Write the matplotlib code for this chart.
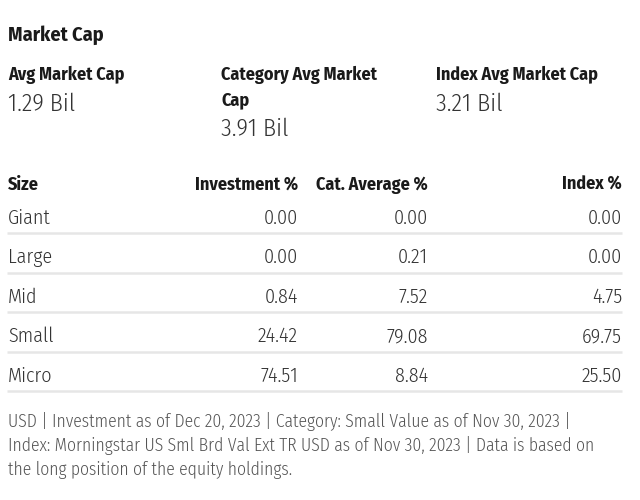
import matplotlib
matplotlib.use("Agg")
import matplotlib.pyplot as plt

plt.rcParams["font.family"] = ["Fira Sans Condensed", "DejaVu Sans"]

title = "Market Cap"
stat_labels = [["Avg Market Cap"], ["Category Avg Market", "Cap"], ["Index Avg Market Cap"]]
stat_values = ["1.29 Bil", "3.91 Bil", "3.21 Bil"]

columns = ["Size", "Investment %", "Cat. Average %", "Index %"]
sizes = ["Giant", "Large", "Mid", "Small", "Micro"]
investment = [0.00, 0.00, 0.84, 24.42, 74.51]
cat_average = [0.00, 0.21, 7.52, 79.08, 8.84]
index_pct = [0.00, 0.00, 4.75, 69.75, 25.50]

footnote = ["USD | Investment as of Dec 20, 2023 | Category: Small Value as of Nov 30, 2023 |",
            "Index: Morningstar US Sml Brd Val Ext TR USD as of Nov 30, 2023 | Data is based on",
            "the long position of the equity holdings."]

dark = "#1a1a1a"
value_col = "#333333"
grey = "#555555"
rule = "#e6e6e6"

fig = plt.figure(figsize=(6.4, 5.0), dpi=100)
ax = fig.add_axes([0, 0, 1, 1])
ax.set_xlim(0, 640)
ax.set_ylim(500, 0)
ax.axis("off")

ax.text(8, 41, title, fontsize=14.5, fontweight=700, color=dark, va="baseline")

# summary stats
stat_x = [8, 221, 436]
for x, lab, val in zip(stat_x, stat_labels, stat_values):
    for k, line in enumerate(lab):
        ax.text(x, 80 + 25 * k, line, fontsize=13, fontweight=700, color=dark, va="baseline")
    ax.text(x, 111 + 25 * (len(lab) - 1), val, fontsize=17.5, fontweight=300,
            color=value_col, va="baseline")

# table
col_x = [8, 298, 428, 622]
ax.text(col_x[0], 190, columns[0], fontsize=13, fontweight=700, color=dark, va="baseline")
for x, c in zip(col_x[1:], columns[1:]):
    ax.text(x, 190, c, fontsize=13, fontweight=700, color=dark, va="baseline", ha="right")

row_base = 223.5
row_step = 39.6
for i, name in enumerate(sizes):
    y = row_base + i * row_step
    ax.text(col_x[0], y, name, fontsize=14.5, fontweight=300, color=value_col, va="baseline")
    for x, series in zip(col_x[1:], [investment, cat_average, index_pct]):
        ax.text(x, y, f"{series[i]:.2f}", fontsize=14.5, fontweight=300, color=value_col,
                va="baseline", ha="right")
    ax.hlines(y + 9.5, 7, 622, color=rule, linewidth=1.8)

for k, line in enumerate(footnote):
    ax.text(8, 427 + 24 * k, line, fontsize=12.7, fontweight=300, color=grey, va="baseline")

fig.savefig("out.png", dpi=100)
